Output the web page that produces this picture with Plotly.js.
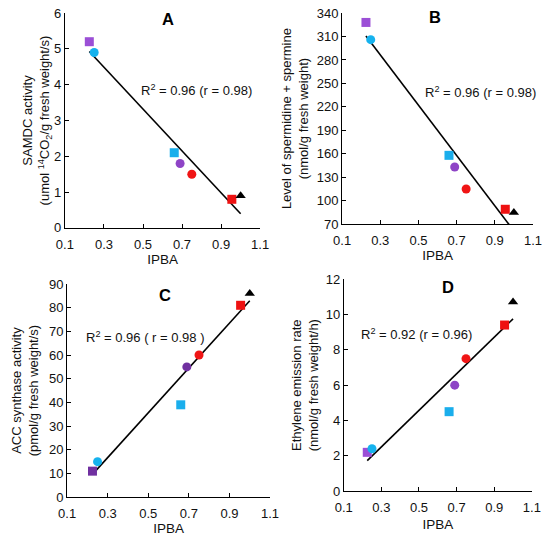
<!DOCTYPE html>
<html><head><meta charset="utf-8">
<script src="https://cdn.plot.ly/plotly-3.0.1.min.js"></script>
<style>html,body{margin:0;padding:0;background:#fff}#chart{width:550px;height:544px}</style>
</head><body><div id="chart"></div>
<script>
// Data (7 samples, same order in every panel)
const ipba = [0.225, 0.25, 0.66, 0.69, 0.75, 0.955, 1.0];
const samdc = [5.2, 4.9, 2.1, 1.8, 1.5, 0.8, 0.9];
const spermidine = [328, 306, 158, 143, 115, 89, 85];
const accSynthase = [11, 15, 39, 55, 60, 81, 86];
const ethylene = [2.2, 2.4, 4.5, 6.0, 7.5, 9.4, 10.7];
const xTickVals = [0.1, 0.3, 0.5, 0.7, 0.9, 1.1];
const xTickText = ['0.1', '0.3', '0.5', '0.7', '0.9', '1.1'];
const panelLabels = ['A', 'B', 'C', 'D'];
const fitLabels = ['R<sup>2</sup> = 0.96 (r = 0.98)', 'R<sup>2</sup> = 0.96 (r = 0.98)', 'R<sup>2</sup> = 0.96 ( r = 0.98 )', 'R<sup>2</sup> = 0.92 (r = 0.96)'];

// Styles
const symA = ['square', 'circle', 'square', 'circle', 'circle', 'square', 'triangle-up'];
const colA = ['#9B4FD6', '#15B2EE', '#1AAEEC', '#8E44C6', '#F01515', '#EE1111', '#000000'];
const colC = ['#7030A0', '#15B2EE', '#1AAEEC', '#7030A0', '#F01515', '#EE1111', '#000000'];
const FONT = 'Liberation Sans, Arial, sans-serif';

function fit(x, y) {
  const n = x.length;
  const mx = x.reduce((a, b) => a + b, 0) / n, my = y.reduce((a, b) => a + b, 0) / n;
  let sxy = 0, sxx = 0;
  for (let i = 0; i < n; i++) { sxy += (x[i] - mx) * (y[i] - my); sxx += (x[i] - mx) ** 2; }
  const b = sxy / sxx, a = my - b * mx;
  const x0 = Math.min(...x), x1 = Math.max(...x);
  return { x: [x0, x1], y: [a + b * x0, a + b * x1] };
}

const panels = [
  { y: samdc, cols: colA, xa: 'x', ya: 'y' },
  { y: spermidine, cols: colA, xa: 'x2', ya: 'y2' },
  { y: accSynthase, cols: colC, xa: 'x3', ya: 'y3' },
  { y: ethylene, cols: colA, xa: 'x4', ya: 'y4' },
];
const traces = [];
panels.forEach(p => {
  const f = fit(ipba, p.y);
  traces.push({ x: f.x, y: f.y, xaxis: p.xa, yaxis: p.ya, mode: 'lines', line: { color: '#000', width: 1.6 }, hoverinfo: 'skip', showlegend: false, cliponaxis: true });
  traces.push({ x: ipba, y: p.y, xaxis: p.xa, yaxis: p.ya, mode: 'markers', showlegend: false,
    marker: { symbol: symA, color: p.cols, size: 9, line: { width: 0 } }, cliponaxis: false });
});

function xax(domain, anchor, standoff) {
  return { domain: domain, anchor: anchor, range: [0.1, 1.1], tickvals: xTickVals, ticktext: xTickText,
    showline: true, linecolor: '#000', linewidth: 1, ticks: 'inside', ticklen: 4, tickcolor: '#000',
    ticklabelstandoff: 4,
    showgrid: false, zeroline: false, automargin: false, fixedrange: true,
    tickfont: { family: FONT, size: 13, color: '#111' },
    title: { text: 'IPBA', font: { family: FONT, size: 13.5, color: '#111' }, standoff: standoff } };
}
function yax(domain, anchor, range, dtick, title, standoff) {
  return { domain: domain, anchor: anchor, range: range, dtick: dtick, tick0: range[0],
    showline: true, linecolor: '#000', linewidth: 1, ticks: 'inside', ticklen: 4, tickcolor: '#000',
    showgrid: false, zeroline: false, automargin: false, fixedrange: true,
    tickfont: { family: FONT, size: 13, color: '#111' },
    title: { text: title, font: { family: FONT, size: 13, color: '#111' }, standoff: standoff } };
}

const layout = {
  width: 550, height: 544, margin: { l: 0, r: 0, t: 0, b: 0 },
  paper_bgcolor: '#fff', plot_bgcolor: 'rgba(0,0,0,0)', showlegend: false,
  font: { family: FONT, color: '#111' },
  xaxis: xax([0.118, 0.473], 'y', 0),
  yaxis: yax([0.581, 0.976], 'x', [0, 6], 1, 'SAMDC activity<br>(umol <sup>14</sup>CO<sub>2</sub>/g fresh weight/s)', 0),
  xaxis2: xax([0.622, 0.969], 'y2', 2),
  yaxis2: yax([0.588, 0.976], 'x2', [70, 340], 30, 'Level of spermidine + spermine<br>(nmol/g fresh weight)', 5),
  xaxis3: xax([0.122, 0.491], 'y3', 2),
  yaxis3: yax([0.086, 0.478], 'x3', [0, 90], 10, 'ACC synthase activity<br>(pmol/g fresh weight/s)', 7),
  xaxis4: xax([0.625, 0.967], 'y4', 5),
  yaxis4: yax([0.097, 0.487], 'x4', [0, 12], 2, 'Ethylene emission rate<br>(nmol/g fresh weight/h)', 4),
  annotations: [
    { text: '<b>' + panelLabels[0] + '</b>', x: 168 / 550, y: 1 - 19 / 544 },
    { text: '<b>' + panelLabels[1] + '</b>', x: 435 / 550, y: 1 - 17 / 544 },
    { text: '<b>' + panelLabels[2] + '</b>', x: 165 / 550, y: 1 - 295 / 544 },
    { text: '<b>' + panelLabels[3] + '</b>', x: 448 / 550, y: 1 - 287 / 544 },
  ].map(a => Object.assign(a, { xref: 'paper', yref: 'paper', showarrow: false, xanchor: 'center', yanchor: 'middle', font: { family: FONT, size: 16.5, color: '#000' } }))
  .concat([
    { text: fitLabels[0], x: 196 / 550, y: 1 - 90 / 544 },
    { text: fitLabels[1], x: 480 / 550, y: 1 - 92 / 544 },
    { text: fitLabels[2], x: 145 / 550, y: 1 - 337 / 544 },
    { text: fitLabels[3], x: 416 / 550, y: 1 - 334 / 544 },
  ].map(a => Object.assign(a, { xref: 'paper', yref: 'paper', showarrow: false, xanchor: 'center', yanchor: 'middle', font: { family: FONT, size: 13, color: '#111' } })))
};

Plotly.newPlot('chart', traces, layout, { staticPlot: true, displayModeBar: false });
</script>
</body></html>
